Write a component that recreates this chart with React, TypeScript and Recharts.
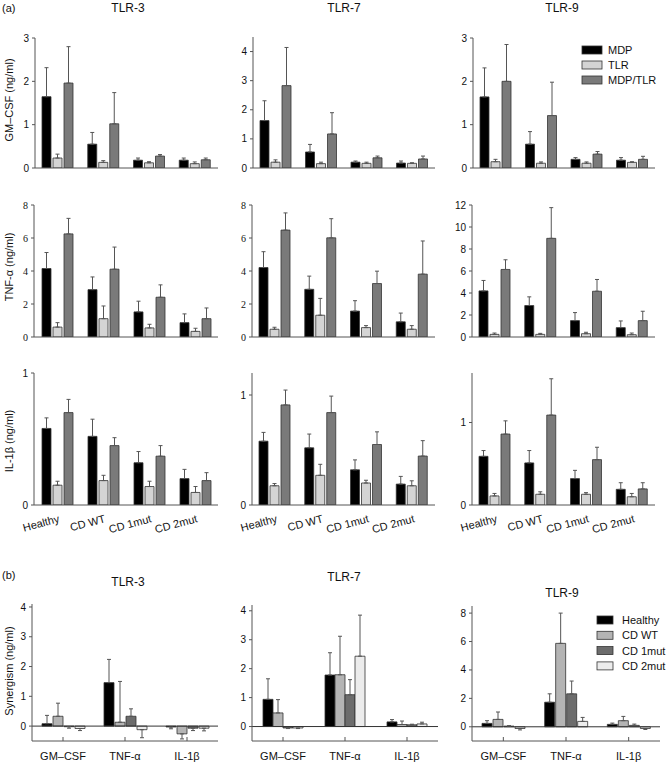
import React from 'react';
import { BarChart, Bar, XAxis, YAxis, ErrorBar, ReferenceLine } from 'recharts';

const SANS = '"Liberation Sans", Arial, sans-serif';
const SERIF = '"Liberation Serif", "Times New Roman", serif';

// ---------- Panel (a) ----------
const groupsA = ['Healthy', 'CD WT', 'CD 1mut', 'CD 2mut'];
const seriesA = ['MDP', 'TLR', 'MDP/TLR'];
const colorsA = ['#000000', '#d4d4d4', '#7a7a7a'];

// GM-CSF (ng/ml)  rows: MDP, TLR, MDP/TLR ; columns: Healthy, CD WT, CD 1mut, CD 2mut
const gmTLR3Values = [[1.645, 0.55, 0.18, 0.18], [0.23, 0.13, 0.12, 0.1], [1.96, 1.02, 0.275, 0.19]];
const gmTLR3Errors = [[0.67, 0.27, 0.05, 0.05], [0.09, 0.04, 0.025, 0.04], [0.84, 0.72, 0.035, 0.04]];
const gmTLR7Values = [[1.63, 0.55, 0.2, 0.17], [0.2, 0.15, 0.16, 0.16], [2.83, 1.17, 0.35, 0.31]];
const gmTLR7Errors = [[0.68, 0.26, 0.04, 0.07], [0.08, 0.05, 0.04, 0.02], [1.31, 0.73, 0.06, 0.1]];
const gmTLR9Values = [[1.64, 0.55, 0.2, 0.18], [0.145, 0.11, 0.11, 0.13], [2.0, 1.21, 0.32, 0.2]];
const gmTLR9Errors = [[0.67, 0.29, 0.04, 0.06], [0.055, 0.03, 0.03, 0.015], [0.85, 0.77, 0.06, 0.07]];

// TNF-α (ng/ml)
const tnfTLR3Values = [[4.15, 2.87, 1.52, 0.87], [0.6, 1.11, 0.55, 0.34], [6.25, 4.11, 2.41, 1.11]];
const tnfTLR3Errors = [[0.97, 0.77, 0.65, 0.53], [0.27, 0.77, 0.22, 0.19], [0.94, 1.34, 0.75, 0.65]];
const tnfTLR7Values = [[4.21, 2.89, 1.57, 0.92], [0.47, 1.32, 0.57, 0.47], [6.48, 6.01, 3.24, 3.81]];
const tnfTLR7Errors = [[0.96, 0.8, 0.63, 0.53], [0.12, 1.02, 0.12, 0.22], [1.04, 1.16, 0.75, 2.01]];
const tnfTLR9Values = [[4.19, 2.86, 1.49, 0.85], [0.24, 0.24, 0.3, 0.21], [6.14, 8.97, 4.16, 1.49]];
const tnfTLR9Errors = [[0.95, 0.79, 0.73, 0.61], [0.12, 0.09, 0.13, 0.15], [0.88, 2.79, 1.07, 0.85]];

// IL-1β (ng/ml)
const ilTLR3Values = [[0.58, 0.52, 0.32, 0.2], [0.15, 0.185, 0.14, 0.095], [0.7, 0.45, 0.37, 0.185]];
const ilTLR3Errors = [[0.08, 0.13, 0.085, 0.07], [0.03, 0.04, 0.04, 0.045], [0.1, 0.06, 0.08, 0.06]];
const ilTLR7Values = [[0.58, 0.52, 0.32, 0.19], [0.175, 0.27, 0.2, 0.175], [0.91, 0.84, 0.55, 0.445]];
const ilTLR7Errors = [[0.08, 0.125, 0.09, 0.07], [0.02, 0.1, 0.025, 0.045], [0.135, 0.15, 0.115, 0.14]];
const ilTLR9Values = [[0.59, 0.51, 0.32, 0.19], [0.11, 0.13, 0.13, 0.1], [0.86, 1.09, 0.55, 0.195]];
const ilTLR9Errors = [[0.07, 0.15, 0.1, 0.08], [0.03, 0.03, 0.02, 0.04], [0.16, 0.44, 0.15, 0.075]];

// ---------- Panel (b) ----------
const groupsB = ['GM–CSF', 'TNF-α', 'IL-1β'];
const seriesB = ['Healthy', 'CD WT', 'CD 1mut', 'CD 2mut'];
const colorsB = ['#000000', '#b4b4b4', '#6c6c6c', '#ececec'];

// Synergism (ng/ml)  rows: Healthy, CD WT, CD 1mut, CD 2mut ; columns: GM-CSF, TNF-α, IL-1β
const synTLR3Values = [[0.08, 1.46, -0.03], [0.33, 0.13, -0.26], [-0.02, 0.33, -0.07], [-0.08, -0.12, -0.07]];
const synTLR3Errors = [[0.28, 0.78, 0.06], [0.44, 1.37, 0.17], [0.05, 0.25, 0.08], [0.07, 0.27, 0.09]];
const synTLR7Values = [[0.94, 1.78, 0.16], [0.47, 1.79, 0.07], [-0.05, 1.1, 0.06], [-0.05, 2.43, 0.09]];
const synTLR7Errors = [[0.71, 0.77, 0.08], [0.46, 1.33, 0.12], [0.02, 0.52, 0.02], [0.02, 1.42, 0.06]];
const synTLR9Values = [[0.24, 1.73, 0.17], [0.52, 5.87, 0.43], [0.05, 2.32, 0.1], [-0.12, 0.38, -0.12]];
const synTLR9Errors = [[0.19, 0.59, 0.09], [0.52, 2.13, 0.3], [0.03, 0.9, 0.09], [0.1, 0.28, 0.07]];

function buildData(categories: string[], values: number[][], errors: number[][]) {
  return categories.map((c, i) => {
    const row: any = { name: c };
    values.forEach((vals, j) => {
      const v = vals[i];
      const e = errors[j][i];
      row['v' + j] = v;
      row['e' + j] = v >= 0 ? [0, e] : [e, 0];
    });
    return row;
  });
}

const RotTick = (props: any) => {
  const { x, y, payload } = props;
  const tx = x + 3;
  const ty = y + 17;
  return (
    <text x={tx} y={ty} textAnchor="end" fontSize={11} fontFamily={SANS} fill="#111"
      transform={`rotate(-15, ${tx}, ${ty})`}>{payload.value}</text>
  );
};

const BTick = (props: any) => {
  const { x, y, payload } = props;
  return (
    <g>
      <line x1={x} x2={x} y1={y} y2={y - 4} stroke="#555" />
      <text x={x} y={y + 19} textAnchor="middle" fontSize={11} fontFamily={SANS} fill="#111">{payload.value}</text>
    </g>
  );
};

type PanelProps = {
  left: number; right: number; top: number; bottom: number;
  categories: string[]; values: number[][]; errors: number[][]; colors: string[];
  domain: [number, number]; ticks: number[]; barSize: number; barGap: number;
  tickFont?: string; xMode: 'none' | 'rot' | 'b'; zeroLine?: boolean;
};

const Panel = (p: PanelProps) => {
  const yAxisW = 40;
  const mTop = 6;
  const mRight = 4;
  const xH = p.xMode === 'none' ? 10 : p.xMode === 'rot' ? 36 : 26;
  const plotW = p.right - p.left;
  const plotH = p.bottom - p.top;
  const W = yAxisW + plotW + mRight;
  const H = mTop + plotH + xH;
  const data = buildData(p.categories, p.values, p.errors);
  return (
    <div style={{ position: 'absolute', left: p.left - yAxisW, top: p.top - mTop, width: W, height: H }}>
      <BarChart width={W} height={H} data={data} margin={{ top: mTop, right: mRight, bottom: 0, left: 0 }}
        barSize={p.barSize} barGap={p.barGap}>
        <XAxis dataKey="name" height={xH} axisLine={{ stroke: '#555' }} tickLine={false}
          tickSize={0} tickMargin={0} interval={0}
          tick={p.xMode === 'none' ? false : p.xMode === 'rot' ? <RotTick /> : <BTick />} />
        <YAxis type="number" width={yAxisW} domain={p.domain} ticks={p.ticks} allowDataOverflow interval={0}
          axisLine={{ stroke: '#555' }} tickLine={{ stroke: '#555' }} tickSize={3} tickMargin={3}
          tick={{ fontSize: 10, fontFamily: p.tickFont || SANS, fill: '#111' }} />
        {p.zeroLine && <ReferenceLine y={0} stroke="#333" strokeWidth={1} />}
        {p.values.map((_, j) => (
          <Bar key={j} dataKey={'v' + j} fill={p.colors[j]} stroke="#333" strokeWidth={0.8} isAnimationActive={false}>
            <ErrorBar dataKey={'e' + j} width={2} stroke="#555" strokeWidth={1} direction="y" />
          </Bar>
        ))}
      </BarChart>
    </div>
  );
};

const Txt = (props: any) => (
  <text fontFamily={SANS} fontSize={11} fill="#111" dominantBaseline="central" {...props} />
);

export default function App() {
  const aCommon = { categories: groupsA, colors: colorsA, barSize: 9, barGap: 2 };
  const bCommon = { categories: groupsB, colors: colorsB, barSize: 10, barGap: 1, xMode: 'b' as const, zeroLine: true };
  return (
    <div style={{ position: 'absolute', left: 0, top: 0, width: 666, height: 764, background: '#fff', overflow: 'hidden' }}>
      {/* Row 1: GM-CSF */}
      <Panel {...aCommon} left={35} right={218} top={38} bottom={168} values={gmTLR3Values} errors={gmTLR3Errors}
        domain={[0, 3]} ticks={[0, 1, 2, 3]} xMode="none" />
      <Panel {...aCommon} left={253} right={435} top={37} bottom={168} values={gmTLR7Values} errors={gmTLR7Errors}
        domain={[0, 4.5]} ticks={[0, 1, 2, 3, 4]} xMode="none" />
      <Panel {...aCommon} left={473} right={655} top={38} bottom={168} values={gmTLR9Values} errors={gmTLR9Errors}
        domain={[0, 3]} ticks={[0, 1, 2, 3]} xMode="none" />
      {/* Row 2: TNF-α */}
      <Panel {...aCommon} left={34} right={218} top={205} bottom={337} values={tnfTLR3Values} errors={tnfTLR3Errors}
        domain={[0, 8]} ticks={[0, 2, 4, 6, 8]} xMode="none" tickFont={SERIF} />
      <Panel {...aCommon} left={252} right={435} top={205} bottom={337} values={tnfTLR7Values} errors={tnfTLR7Errors}
        domain={[0, 8]} ticks={[0, 2, 4, 6, 8]} xMode="none" tickFont={SERIF} />
      <Panel {...aCommon} left={472} right={655} top={205} bottom={337} values={tnfTLR9Values} errors={tnfTLR9Errors}
        domain={[0, 12]} ticks={[0, 2, 4, 6, 8, 10, 12]} xMode="none" />
      {/* Row 3: IL-1β */}
      <Panel {...aCommon} left={34} right={218} top={373} bottom={505} values={ilTLR3Values} errors={ilTLR3Errors}
        domain={[0, 1]} ticks={[0, 1]} xMode="rot" />
      <Panel {...aCommon} left={252} right={435} top={373} bottom={505} values={ilTLR7Values} errors={ilTLR7Errors}
        domain={[0, 1.2]} ticks={[0, 1]} xMode="rot" />
      <Panel {...aCommon} left={472} right={655} top={373} bottom={505} values={ilTLR9Values} errors={ilTLR9Errors}
        domain={[0, 1.6]} ticks={[0, 1]} xMode="rot" />
      {/* Panel (b) */}
      <Panel {...bCommon} left={32} right={218} top={604} bottom={741} values={synTLR3Values} errors={synTLR3Errors}
        domain={[-0.5, 4.1]} ticks={[0, 1, 2, 3, 4]} />
      <Panel {...bCommon} left={252} right={438} top={605} bottom={741} values={synTLR7Values} errors={synTLR7Errors}
        domain={[-0.5, 4.2]} ticks={[0, 1, 2, 3, 4]} barGap={0} />
      <Panel {...bCommon} left={472} right={660} top={606} bottom={741} values={synTLR9Values} errors={synTLR9Errors}
        domain={[-1, 8.5]} ticks={[0, 2, 4, 6, 8]} />

      <svg width={666} height={764} style={{ position: 'absolute', left: 0, top: 0, pointerEvents: 'none' }}>
        <Txt x={2} y={8} fontSize={11}>(a)</Txt>
        <Txt x={128} y={8} textAnchor="middle" fontSize={12}>TLR-3</Txt>
        <Txt x={344} y={8} textAnchor="middle" fontSize={12}>TLR-7</Txt>
        <Txt x={562} y={8} textAnchor="middle" fontSize={12}>TLR-9</Txt>
        <Txt x={9} y={100} textAnchor="middle" transform="rotate(-90, 9, 100)">GM–CSF (ng/ml)</Txt>
        <Txt x={9} y={267} textAnchor="middle" transform="rotate(-90, 9, 267)">TNF-α (ng/ml)</Txt>
        <Txt x={9} y={441} textAnchor="middle" transform="rotate(-90, 9, 441)">IL-1β (ng/ml)</Txt>
        {seriesA.map((s, i) => (
          <g key={s}>
            <rect x={582} y={46 + i * 15} width={20} height={8} fill={colorsA[i]} stroke="#333" strokeWidth={0.8} />
            <Txt x={608} y={50 + i * 15}>{s}</Txt>
          </g>
        ))}
        <Txt x={2} y={575}>(b)</Txt>
        <Txt x={128} y={582} textAnchor="middle" fontSize={12}>TLR-3</Txt>
        <Txt x={344} y={577} textAnchor="middle" fontSize={12}>TLR-7</Txt>
        <Txt x={562} y={593} textAnchor="middle" fontSize={12}>TLR-9</Txt>
        <Txt x={9} y={671} textAnchor="middle" transform="rotate(-90, 9, 671)">Synergism (ng/ml)</Txt>
        {seriesB.map((s, i) => (
          <g key={s}>
            <rect x={597} y={616 + i * 15.3} width={16} height={8} fill={colorsB[i]} stroke="#333" strokeWidth={0.8} />
            <Txt x={622} y={620 + i * 15.3}>{s}</Txt>
          </g>
        ))}
      </svg>
    </div>
  );
}
